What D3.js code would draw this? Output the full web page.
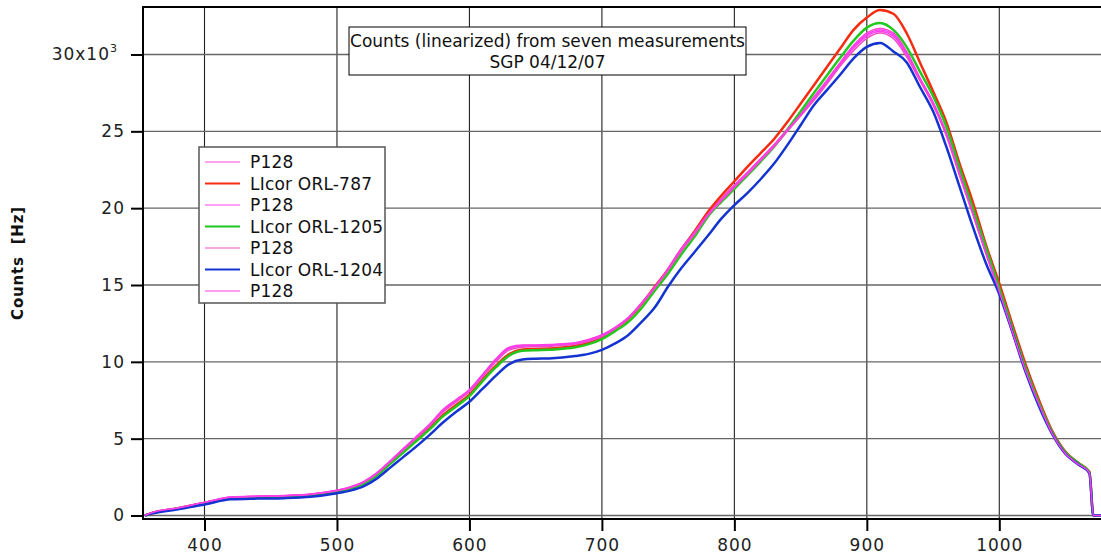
<!DOCTYPE html>
<html>
<head>
<meta charset="utf-8">
<script src="https://cdn.jsdelivr.net/npm/d3@7"></script>
<style>
  body { margin: 0; background: #fff; }
  svg { display: block; font-family: "DejaVu Sans", sans-serif; }
</style>
</head>
<body>
<div id="chart"></div>
<script>
// wavelength [nm]
const wavelength = [355, 360, 380, 400, 420, 440, 460, 480, 500, 510, 520, 530, 540, 550, 560, 570, 580, 590,
  600, 610, 620, 630, 640, 650, 660, 670, 680, 690, 700, 710, 720, 730, 740, 750, 760, 770, 780, 790,
  800, 810, 820, 830, 840, 850, 860, 870, 880, 890, 900, 910, 920, 930, 940, 950, 960, 970, 980, 990,
  1000, 1010, 1020, 1030, 1040, 1050, 1060, 1068, 1071, 1077];

// counts [Hz], one array per measurement
const p128a = [0, 180, 500, 860, 1200, 1260, 1300, 1400, 1650, 1860, 2200, 2780, 3550, 4350, 5150, 5950, 6900, 7550,
  8200, 9200, 10200, 10950, 11100, 11100, 11120, 11180, 11250, 11450, 11760, 12250, 12900, 13850, 14900, 16100, 17400, 18500, 19650, 20600,
  21500, 22350, 23250, 24150, 25150, 26150, 27250, 28350, 29500, 30600, 31400, 31700, 31400, 30200, 28500, 26900, 24900, 22300, 19700, 17100,
  14600, 11950, 9400, 7250, 5350, 4050, 3350, 2800, 0, 0];
const licor787 = [0, 150, 470, 820, 1140, 1200, 1240, 1340, 1580, 1780, 2100, 2650, 3400, 4150, 4920, 5680, 6520, 7200,
  7870, 8850, 9750, 10500, 10800, 10840, 10860, 10930, 11050, 11250, 11600, 12150, 12800, 13750, 14900, 16000, 17300, 18500, 19750, 20800,
  21750, 22700, 23600, 24500, 25600, 26800, 28000, 29200, 30400, 31600, 32400, 32900, 32650, 31400, 29500, 27600, 25600, 22900, 20400, 17600,
  15100, 12400, 9800, 7500, 5500, 4150, 3400, 2850, 0, 0];
const p128b = [0, 170, 490, 850, 1180, 1240, 1280, 1380, 1620, 1830, 2170, 2740, 3500, 4300, 5080, 5880, 6800, 7470,
  8120, 9100, 10100, 10850, 11030, 11050, 11070, 11130, 11200, 11400, 11700, 12200, 12850, 13800, 14850, 16000, 17300, 18400, 19550, 20500,
  21400, 22250, 23150, 24050, 25050, 26050, 27100, 28200, 29350, 30400, 31200, 31500, 31200, 30000, 28400, 26800, 24800, 22200, 19650, 17050,
  14550, 11900, 9350, 7200, 5300, 4000, 3300, 2780, 0, 0];
const licor1205 = [0, 150, 450, 800, 1120, 1180, 1220, 1320, 1550, 1750, 2050, 2600, 3350, 4100, 4850, 5600, 6450, 7100,
  7770, 8750, 9650, 10400, 10720, 10760, 10780, 10850, 10950, 11150, 11480, 12000, 12600, 13500, 14650, 15750, 17000, 18150, 19450, 20400,
  21250, 22150, 23050, 24000, 25100, 26300, 27500, 28650, 29800, 30900, 31750, 32050, 31600, 30500, 28900, 27300, 25300, 22600, 20000, 17400,
  14800, 12150, 9550, 7300, 5400, 4100, 3380, 2820, 0, 0];
const p128c = [0, 160, 480, 840, 1170, 1230, 1270, 1370, 1610, 1810, 2140, 2710, 3470, 4250, 5030, 5820, 6720, 7400,
  8050, 9020, 10000, 10760, 10950, 10980, 11000, 11060, 11140, 11340, 11650, 12150, 12800, 13750, 14800, 15950, 17200, 18300, 19500, 20450,
  21350, 22200, 23100, 24000, 25000, 26000, 27000, 28100, 29250, 30250, 31050, 31400, 31050, 29850, 28300, 26700, 24700, 22100, 19600, 17000,
  14500, 11850, 9300, 7150, 5280, 3980, 3280, 2760, 0, 0];
const licor1204 = [0, 120, 400, 720, 1050, 1100, 1130, 1220, 1450, 1620, 1900, 2400, 3100, 3800, 4500, 5250, 6050, 6750,
  7400, 8250, 9100, 9850, 10150, 10200, 10220, 10280, 10380, 10520, 10780, 11200, 11750, 12600, 13550, 14900, 16100, 17150, 18200, 19300,
  20200, 21000, 21900, 22900, 24100, 25400, 26700, 27700, 28700, 29750, 30500, 30750, 30200, 29500, 27900, 26300, 24000, 21400, 18800, 16400,
  14400, 11900, 9300, 7100, 5300, 4000, 3300, 2750, 0, 0];
const p128d = [0, 175, 495, 855, 1190, 1250, 1290, 1390, 1640, 1850, 2190, 2760, 3530, 4320, 5120, 5920, 6850, 7500,
  8150, 9150, 10150, 10900, 11060, 11080, 11100, 11160, 11230, 11430, 11730, 12220, 12880, 13820, 14870, 16050, 17350, 18450, 19600, 20550,
  21450, 22300, 23200, 24100, 25100, 26100, 27150, 28250, 29400, 30500, 31300, 31600, 31300, 30100, 28450, 26850, 24850, 22250, 19680, 17080,
  14580, 11920, 9380, 7220, 5320, 4020, 3320, 2790, 0, 0];

const seriesNames = ["P128", "LIcor ORL-787", "P128", "LIcor ORL-1205", "P128", "LIcor ORL-1204", "P128"];
const seriesValues = [p128a, licor787, p128b, licor1205, p128c, licor1204, p128d];
const seriesColors = ["#ff44d8", "#f52c10", "#ff40f0", "#22c81e", "#f04cc8", "#1434d2", "#ff3cec"];
const seriesWidths = [1.5, 2.5, 1.5, 2.5, 1.5, 2.5, 1.5];

const xTicks = [400, 500, 600, 700, 800, 900, 1000];
const yTicks = [0, 5000, 10000, 15000, 20000, 25000, 30000];
const titleLines = ["Counts (linearized) from seven measurements", "SGP 04/12/07"];

const W = 1101, H = 560;
const plot = { left: 143, top: 7, right: 1101, bottom: 519 };

const svg = d3.select("#chart").append("svg")
  .attr("width", W).attr("height", H);

const x = d3.scaleLinear().domain([400, 1000]).range([204.5, 999.3]);
const y = d3.scaleLinear().domain([0, 30000]).range([515.5, 54.5]);

// gridlines
svg.append("g")
  .selectAll("line.vgrid")
  .data(xTicks)
  .join("line")
  .attr("x1", d => x(d)).attr("x2", d => x(d))
  .attr("y1", plot.top).attr("y2", plot.bottom)
  .attr("stroke", "#222").attr("stroke-width", 1.1);

svg.append("g")
  .selectAll("line.hgrid")
  .data(yTicks)
  .join("line")
  .attr("x1", plot.left).attr("x2", plot.right)
  .attr("y1", d => y(d)).attr("y2", d => y(d))
  .attr("stroke", "#666").attr("stroke-width", 1.4);

// axes
const xAxis = d3.axisBottom(x).tickValues(xTicks).tickSize(12).tickPadding(8).tickFormat(d3.format("d"));
const xAxisG = svg.append("g")
  .attr("transform", `translate(0,${plot.bottom})`)
  .call(xAxis);
xAxisG.select(".domain").remove();
xAxisG.selectAll(".tick line").attr("stroke", "#000").attr("stroke-width", 2);
xAxisG.selectAll(".tick text")
  .attr("font-size", 17).attr("letter-spacing", 1).attr("fill", "#222")
  .attr("font-family", "DejaVu Sans");

const yAxis = d3.axisLeft(y).tickValues(yTicks).tickSize(12).tickPadding(6)
  .tickFormat(d => d === 30000 ? "30x10" : d3.format("d")(d / 1000));
const yAxisG = svg.append("g")
  .attr("transform", `translate(${plot.left},0)`)
  .call(yAxis);
yAxisG.select(".domain").remove();
yAxisG.selectAll(".tick line").attr("stroke", "#000").attr("stroke-width", 2);
yAxisG.selectAll(".tick text")
  .attr("font-size", 17).attr("letter-spacing", 1).attr("fill", "#222")
  .attr("font-family", "DejaVu Sans");
// superscript exponent on top label
yAxisG.selectAll(".tick text")
  .filter(d => d === 30000)
  .attr("dx", -7)
  .append("tspan")
  .attr("dy", -8).attr("font-size", 11)
  .text("3");

// frame: left and top, bottom axis
svg.append("line")
  .attr("x1", plot.left).attr("x2", plot.left)
  .attr("y1", plot.top - 1).attr("y2", plot.bottom + 1)
  .attr("stroke", "#000").attr("stroke-width", 2);
svg.append("line")
  .attr("x1", plot.left).attr("x2", plot.right)
  .attr("y1", plot.top).attr("y2", plot.top)
  .attr("stroke", "#000").attr("stroke-width", 2);
svg.append("line")
  .attr("x1", plot.left).attr("x2", plot.right)
  .attr("y1", plot.bottom).attr("y2", plot.bottom)
  .attr("stroke", "#000").attr("stroke-width", 2);

// y axis title
svg.append("text")
  .attr("transform", `translate(23,263) rotate(-90)`)
  .attr("text-anchor", "middle")
  .attr("font-size", 15).attr("font-weight", "bold")
  .attr("letter-spacing", 0.8)
  .attr("fill", "#111")
  .style("white-space", "pre")
  .text("Counts  [Hz]");

// series
svg.append("clipPath").attr("id", "clip")
  .append("rect")
  .attr("x", plot.left).attr("y", plot.top)
  .attr("width", plot.right - plot.left).attr("height", plot.bottom - plot.top);

const line = d3.line()
  .x((d, i) => x(wavelength[i]))
  .y(d => y(d))
  .curve(d3.curveMonotoneX);

const seriesG = svg.append("g").attr("clip-path", "url(#clip)");
seriesValues.forEach((vals, i) => {
  seriesG.append("path")
    .datum(vals)
    .attr("d", line)
    .attr("fill", "none")
    .attr("stroke", seriesColors[i])
    .attr("stroke-width", seriesWidths[i])
    .attr("stroke-linejoin", "round");
});

// title box
const tb = svg.append("g");
tb.append("rect")
  .attr("x", 349).attr("y", 27).attr("width", 397).attr("height", 48)
  .attr("fill", "#fff").attr("stroke", "#000").attr("stroke-width", 1);
tb.selectAll("text")
  .data(titleLines)
  .join("text")
  .attr("x", 547.5).attr("y", (d, i) => 47 + i * 21)
  .attr("text-anchor", "middle")
  .attr("font-size", 17).attr("fill", "#111")
  .text(d => d);

// legend
const lg = svg.append("g").attr("transform", "translate(199,147)");
lg.append("rect")
  .attr("width", 186).attr("height", 156)
  .attr("fill", "#fff").attr("stroke", "#555").attr("stroke-width", 1.5);
const items = lg.selectAll("g.item")
  .data(seriesNames)
  .join("g")
  .attr("class", "item")
  .attr("transform", (d, i) => `translate(0,${15 + i * 21.5})`);
items.append("line")
  .attr("x1", 6).attr("x2", 41).attr("y1", 0).attr("y2", 0)
  .attr("stroke", (d, i) => seriesColors[i])
  .attr("stroke-width", (d, i) => seriesWidths[i] > 2 ? 2.2 : 1.1);
items.append("text")
  .attr("x", 51).attr("y", 6)
  .attr("font-size", 17).attr("letter-spacing", 0.2).attr("fill", "#111")
  .text(d => d);
</script>
</body>
</html>
